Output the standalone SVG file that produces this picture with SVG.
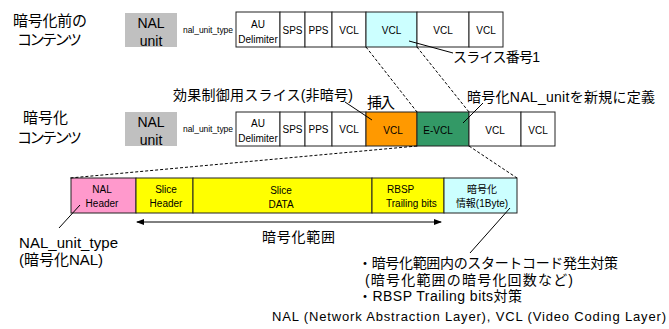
<svg xmlns="http://www.w3.org/2000/svg" width="669" height="329" viewBox="0 0 669 329">
<defs>
<style>
text{font-family:"Liberation Sans","Noto Sans CJK JP",sans-serif;fill:#000}
.box{stroke:#222;stroke-width:1}
.w{fill:#fff}
.g{fill:#c0c0c0;stroke:none}
.s10{font-size:10px}
.s9{font-size:8.5px}
.s14{font-size:14px}
.s15{font-size:15px}
.m{text-anchor:middle}
.ln{stroke:#000;stroke-width:1;fill:none}
.dash{stroke:#000;stroke-width:1;fill:none;stroke-dasharray:3,2}
</style>
<marker id="ah" markerWidth="8" markerHeight="6" refX="7" refY="3" orient="auto-start-reverse" markerUnits="userSpaceOnUse">
<path d="M0,0 L8,3 L0,6 Z" fill="#000"/>
</marker>
</defs>
<rect width="669" height="329" fill="#fff"/>

<g id="label-row1">
<text class="s15" x="13" y="26" textLength="74">暗号化前の</text>
<text class="s15" x="17" y="45" textLength="65">コンテンツ</text>
</g>
<g id="label-row2">
<text class="s15 m" x="45.5" y="123">暗号化</text>
<text class="s15" x="17" y="143" textLength="65">コンテンツ</text>
</g>

<g id="row1">
<rect class="g" x="125" y="13" width="52" height="34"/>
<text class="s14 m" x="151" y="28">NAL</text>
<text class="s14 m" x="151" y="46">unit</text>
<text class="s9" x="183" y="33" textLength="50">nal_unit_type</text>
<rect class="box w" x="236" y="12" width="44" height="35"/>
<text class="s10 m" x="258" y="28">AU</text>
<text class="s10 m" x="258" y="43">Delimiter</text>
<rect class="box w" x="280" y="12" width="25" height="35"/>
<text class="s10 m" x="292.5" y="34">SPS</text>
<rect class="box w" x="305" y="12" width="27" height="35"/>
<text class="s10 m" x="318.5" y="34">PPS</text>
<rect class="box w" x="332" y="12" width="34" height="35"/>
<text class="s10 m" x="349" y="34">VCL</text>
<rect class="box" fill="#ccffff" x="366" y="12" width="51" height="35"/>
<text class="s10 m" x="391.5" y="34">VCL</text>
<rect class="box w" x="417" y="12" width="52" height="35"/>
<text class="s10 m" x="443" y="34">VCL</text>
<rect class="box w" x="469" y="12" width="34" height="35"/>
<text class="s10 m" x="486" y="34">VCL</text>
</g>

<g id="row2">
<rect class="g" x="125" y="112" width="52" height="34"/>
<text class="s14 m" x="151" y="127">NAL</text>
<text class="s14 m" x="151" y="145">unit</text>
<text class="s9" x="183" y="132" textLength="50">nal_unit_type</text>
<rect class="box w" x="236" y="112" width="44" height="34"/>
<text class="s10 m" x="258" y="127">AU</text>
<text class="s10 m" x="258" y="142">Delimiter</text>
<rect class="box w" x="280" y="112" width="25" height="34"/>
<text class="s10 m" x="292.5" y="133">SPS</text>
<rect class="box w" x="305" y="112" width="27" height="34"/>
<text class="s10 m" x="318.5" y="133">PPS</text>
<rect class="box w" x="332" y="112" width="34" height="34"/>
<text class="s10 m" x="349" y="133">VCL</text>
<rect class="box" fill="#ff9900" x="366" y="112" width="51" height="34"/>
<text class="s10 m" x="393" y="134">VCL</text>
<rect class="box" fill="#339966" x="417" y="112" width="52" height="34"/>
<text class="s10 m" x="438" y="134">E-VCL</text>
<rect class="box w" x="469" y="112" width="52" height="34"/>
<text class="s10 m" x="495" y="134">VCL</text>
<rect class="box w" x="521" y="112" width="34" height="34"/>
<text class="s10 m" x="538" y="134">VCL</text>
</g>

<g id="detail">
<rect class="box" fill="#ff99cc" x="71" y="178" width="65" height="35"/>
<text class="s10 m" x="102" y="193">NAL</text>
<text class="s10 m" x="102" y="207">Header</text>
<rect class="box" fill="#ffff00" x="136" y="178" width="57" height="35"/>
<text class="s10 m" x="166" y="193">Slice</text>
<text class="s10 m" x="166" y="207">Header</text>
<rect class="box" fill="#ffff00" x="193" y="178" width="179" height="35"/>
<text class="s10 m" x="281" y="194">Slice</text>
<text class="s10 m" x="281" y="208">DATA</text>
<rect class="box" fill="#ffff00" x="372" y="178" width="72" height="35"/>
<text class="s10" x="387" y="193">RBSP</text>
<text class="s10" x="386" y="207">Trailing bits</text>
<rect class="box" fill="#ccffff" x="444" y="178" width="73" height="35"/>
<text class="s10 m" x="482" y="193">暗号化</text>
<text class="s10 m" x="482" y="207">情報(1Byte)</text>
</g>

<g id="connectors">
<line class="dash" x1="366" y1="47" x2="417" y2="112"/>
<line class="dash" x1="417" y1="47" x2="469" y2="112"/>
<line class="dash" x1="417" y1="146" x2="70" y2="178"/>
<line class="dash" x1="469" y1="146" x2="517" y2="178"/>
<line class="ln" x1="409" y1="41" x2="453" y2="53"/>
<line class="ln" x1="345" y1="102" x2="372" y2="120"/>
<line class="ln" x1="483" y1="103" x2="463" y2="123"/>
<line class="ln" x1="80" y1="205" x2="59" y2="228"/>
<line class="ln" x1="510" y1="208" x2="470" y2="253"/>
<line class="ln" x1="137" y1="222" x2="441" y2="222" marker-start="url(#ah)" marker-end="url(#ah)"/>
</g>

<g id="labels">
<text class="s14" x="453" y="62" textLength="87">スライス番号1</text>
<text class="s14" x="173" y="100" textLength="180">効果制御用スライス(非暗号)</text>
<text class="s15" x="367" y="108" textLength="28">挿入</text>
<text class="s14" x="467" y="102" textLength="188">暗号化NAL_unitを新規に定義</text>
<text class="s14" x="262" y="242" textLength="73">暗号化範囲</text>
<text class="s15" x="19" y="248" textLength="99">NAL_unit_type</text>
<text class="s15" x="19" y="265" textLength="84">(暗号化NAL)</text>
<text class="s14" x="358" y="268" textLength="260">・暗号化範囲内のスタートコード発生対策</text>
<text class="s14" x="365" y="285" textLength="208">(暗号化範囲の暗号化回数など)</text>
<text class="s14" x="358" y="301" textLength="164">・RBSP Trailing bits対策</text>
<text x="272" y="321" textLength="394" style="font-size:13px">NAL (Network Abstraction Layer), VCL (Video Coding Layer)</text>
</g>
</svg>
